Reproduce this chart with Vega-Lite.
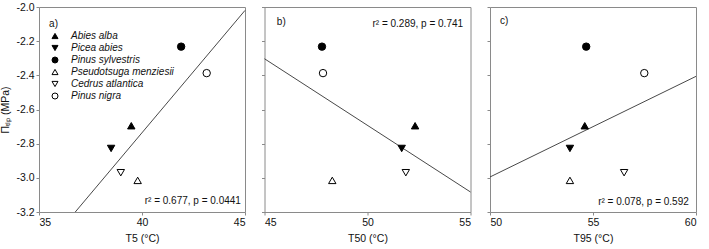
{
  "$schema": "https://vega.github.io/schema/vega-lite/v6.json",
  "background": "white",
  "padding": {"left": 0, "top": 1, "right": 0, "bottom": 2},
  "bounds": "flush",
  "spacing": 19.5,
  "config": {
    "font": "Liberation Sans",
    "view": {"stroke": "#8a8a8a", "strokeWidth": 1},
    "axis": {
      "domain": false, "grid": false, "tickColor": "#8a8a8a", "tickSize": 3, "labelOverlap": false,
      "labelColor": "#111", "labelFontSize": 10.5, "labelFont": "Liberation Sans",
      "titleFont": "Liberation Sans", "titleFontSize": 10.5, "titleFontWeight": "normal", "titleColor": "#111"
    },
    "legend": {
      "labelFont": "Liberation Sans", "labelFontSize": 10, "labelFontStyle": "italic", "labelColor": "#111",
      "symbolStrokeColor": "black", "symbolStrokeWidth": 1, "symbolSize": 36, "rowPadding": 2, "padding": 0, "labelOffset": 11
    }
  },
  "datasets": {
    "pts": [
      {"species": "Abies alba", "T5": 39.48, "T50": 52.31, "T95": 54.6, "PI": -2.695},
      {"species": "Picea abies", "T5": 38.5, "T50": 51.66, "T95": 53.88, "PI": -2.828},
      {"species": "Pinus sylvestris", "T5": 41.9, "T50": 47.79, "T95": 54.67, "PI": -2.232},
      {"species": "Pseudotsuga menziesii", "T5": 39.79, "T50": 48.29, "T95": 53.88, "PI": -3.015},
      {"species": "Cedrus atlantica", "T5": 38.97, "T50": 51.86, "T95": 56.51, "PI": -2.97},
      {"species": "Pinus nigra", "T5": 43.14, "T50": 47.84, "T95": 57.49, "PI": -2.387}
    ]
  },
  "hconcat": [
    {
      "width": 206, "height": 205,
      "encoding": {
        "x": {"field": "T5", "type": "quantitative", "scale": {"domain": [35, 45], "nice": false},
              "axis": {"values": [35, 40, 45], "title": "T5 (°C)", "titlePadding": 6, "labelOverlap": false}},
        "y": {"field": "PI", "type": "quantitative", "scale": {"domain": [-3.2, -2.0], "nice": false, "zero": false},
              "axis": {"values": [-3.2, -3.0, -2.8, -2.6, -2.4, -2.2, -2.0], "tickCount": 7, "labelOverlap": false, "labelExpr": "replace(format(datum.value, '.1f'), '\u2212', '-')", "title": "Πₜₗₚ (MPa)", "titlePadding": 5}}
      },
      "layer": [
        {
          "data": {"values": [{"T5": 36.76, "PI": -3.2}, {"T5": 45, "PI": -2.02}]},
          "mark": {"type": "line", "color": "#333", "strokeWidth": 0.9}
        },
        {
          "data": {"name": "pts"},
          "mark": {"type": "point", "filled": true, "strokeWidth": 1, "opacity": 1, "size": 55},
          "encoding": {
            "shape": {"field": "species", "type": "nominal",
              "scale": {"domain": ["Abies alba", "Picea abies", "Pinus sylvestris", "Pseudotsuga menziesii", "Cedrus atlantica", "Pinus nigra"],
                        "range": ["triangle-up", "triangle-down", "circle", "triangle-up", "triangle-down", "circle"]},
              "legend": {"title": null, "orient": "none", "legendX": 11, "legendY": 24}},
            "fill": {"field": "species", "type": "nominal",
              "scale": {"domain": ["Abies alba", "Picea abies", "Pinus sylvestris", "Pseudotsuga menziesii", "Cedrus atlantica", "Pinus nigra"],
                        "range": ["black", "black", "black", "white", "white", "white"]},
              "legend": {"title": null, "orient": "none", "legendX": 11, "legendY": 24}},
            "stroke": {"field": "species", "type": "nominal",
              "scale": {"domain": ["Abies alba", "Picea abies", "Pinus sylvestris", "Pseudotsuga menziesii", "Cedrus atlantica", "Pinus nigra"],
                        "range": ["black", "black", "black", "black", "black", "black"]},
              "legend": {"title": null, "orient": "none", "legendX": 11, "legendY": 24}}
          }
        },
        {
          "data": {"values": [{"T5": 35.49, "PI": -2.1, "t": "a)"}]},
          "mark": {"type": "text", "align": "left", "baseline": "middle", "fontSize": 10, "color": "#111"},
          "encoding": {"text": {"field": "t"}}
        },
        {
          "data": {"values": [{"T5": 44.8, "PI": -3.137, "t": "r² = 0.677, p = 0.0441"}]},
          "mark": {"type": "text", "align": "right", "baseline": "middle", "fontSize": 10, "color": "#111"},
          "encoding": {"text": {"field": "t"}}
        }
      ]
    },
    {
      "width": 206, "height": 205,
      "encoding": {
        "x": {"field": "T50", "type": "quantitative", "scale": {"domain": [45, 55], "nice": false},
              "axis": {"values": [45, 50, 55], "title": "T50 (°C)", "titlePadding": 6, "labelOverlap": false}},
        "y": {"field": "PI", "type": "quantitative", "scale": {"domain": [-3.2, -2.0], "nice": false, "zero": false},
              "axis": {"values": [-3.2, -3.0, -2.8, -2.6, -2.4, -2.2, -2.0], "labels": false, "title": null}}
      },
      "layer": [
        {
          "data": {"values": [{"T50": 45, "PI": -2.303}, {"T50": 55, "PI": -3.083}]},
          "mark": {"type": "line", "color": "#333", "strokeWidth": 0.9}
        },
        {
          "data": {"name": "pts"},
          "mark": {"type": "point", "filled": true, "stroke": "black", "strokeWidth": 1, "opacity": 1, "size": 55},
          "encoding": {
            "shape": {"field": "species", "type": "nominal",
              "scale": {"domain": ["Abies alba", "Picea abies", "Pinus sylvestris", "Pseudotsuga menziesii", "Cedrus atlantica", "Pinus nigra"],
                        "range": ["triangle-up", "triangle-down", "circle", "triangle-up", "triangle-down", "circle"]},
              "legend": null},
            "fill": {"field": "species", "type": "nominal",
              "scale": {"domain": ["Abies alba", "Picea abies", "Pinus sylvestris", "Pseudotsuga menziesii", "Cedrus atlantica", "Pinus nigra"],
                        "range": ["black", "black", "black", "white", "white", "white"]},
              "legend": null}
          }
        },
        {
          "data": {"values": [{"T50": 45.6, "PI": -2.086, "t": "b)"}]},
          "mark": {"type": "text", "align": "left", "baseline": "middle", "fontSize": 10, "color": "#111"},
          "encoding": {"text": {"field": "t"}}
        },
        {
          "data": {"values": [{"T50": 54.64, "PI": -2.098, "t": "r² = 0.289, p = 0.741"}]},
          "mark": {"type": "text", "align": "right", "baseline": "middle", "fontSize": 10, "color": "#111"},
          "encoding": {"text": {"field": "t"}}
        }
      ]
    },
    {
      "width": 206, "height": 205,
      "encoding": {
        "x": {"field": "T95", "type": "quantitative", "scale": {"domain": [50, 60], "nice": false},
              "axis": {"values": [50, 55, 60], "title": "T95 (°C)", "titlePadding": 6, "labelOverlap": false}},
        "y": {"field": "PI", "type": "quantitative", "scale": {"domain": [-3.2, -2.0], "nice": false, "zero": false},
              "axis": {"values": [-3.2, -3.0, -2.8, -2.6, -2.4, -2.2, -2.0], "labels": false, "title": null}}
      },
      "layer": [
        {
          "data": {"values": [{"T95": 50, "PI": -2.995}, {"T95": 60, "PI": -2.406}]},
          "mark": {"type": "line", "color": "#333", "strokeWidth": 0.9}
        },
        {
          "data": {"name": "pts"},
          "mark": {"type": "point", "filled": true, "stroke": "black", "strokeWidth": 1, "opacity": 1, "size": 55},
          "encoding": {
            "shape": {"field": "species", "type": "nominal",
              "scale": {"domain": ["Abies alba", "Picea abies", "Pinus sylvestris", "Pseudotsuga menziesii", "Cedrus atlantica", "Pinus nigra"],
                        "range": ["triangle-up", "triangle-down", "circle", "triangle-up", "triangle-down", "circle"]},
              "legend": null},
            "fill": {"field": "species", "type": "nominal",
              "scale": {"domain": ["Abies alba", "Picea abies", "Pinus sylvestris", "Pseudotsuga menziesii", "Cedrus atlantica", "Pinus nigra"],
                        "range": ["black", "black", "black", "white", "white", "white"]},
              "legend": null}
          }
        },
        {
          "data": {"values": [{"T95": 50.48, "PI": -2.082, "t": "c)"}]},
          "mark": {"type": "text", "align": "left", "baseline": "middle", "fontSize": 10, "color": "#111"},
          "encoding": {"text": {"field": "t"}}
        },
        {
          "data": {"values": [{"T95": 59.65, "PI": -3.143, "t": "r² = 0.078, p = 0.592"}]},
          "mark": {"type": "text", "align": "right", "baseline": "middle", "fontSize": 10, "color": "#111"},
          "encoding": {"text": {"field": "t"}}
        }
      ]
    }
  ],
  "resolve": {"scale": {"x": "independent", "y": "independent", "shape": "independent", "fill": "independent", "stroke": "independent"}, "legend": {"shape": "independent", "fill": "independent", "stroke": "independent"}}
}
